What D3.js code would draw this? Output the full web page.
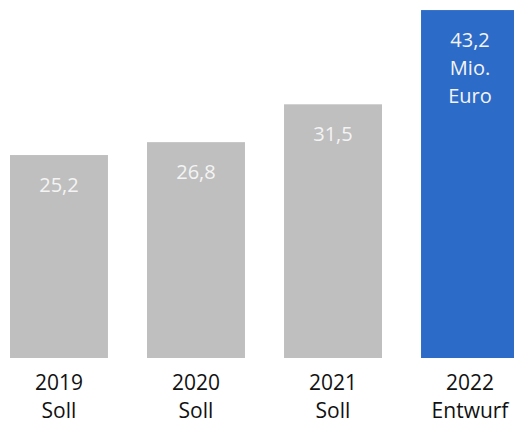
<!DOCTYPE html>
<html>
<head>
<meta charset="utf-8">
<script src="https://cdn.jsdelivr.net/npm/d3@7"></script>
<style>
  html, body { margin: 0; padding: 0; background: #fff; }
</style>
</head>
<body>
<div id="chart"></div>
<script>
// data
const years = ["2019", "2020", "2021", "2022"];
const kinds = ["Soll", "Soll", "Soll", "Entwurf"];
const values = [25.2, 26.8, 31.5, 43.2];
const labels = ["25,2", "26,8", "31,5", "43,2"];
const unitLines = ["Mio.", "Euro"]; // only on the last bar

const grey = "#bfbfbf";
const blue = "#2c6bc8";

const width = 514;
const height = 423;
const baseY = 358;

const x = d3.scaleBand()
  .domain(years)
  .range([10, 519])
  .paddingInner(0.285)
  .paddingOuter(0);

const y = d3.scaleLinear()
  .domain([0, 44.45])
  .range([baseY, 0]);

const svg = d3.select("#chart").append("svg")
  .attr("width", width)
  .attr("height", height)
  .style("font-family", "'Open Sans', sans-serif");

const rows = years.map((yr, i) => ({ year: yr, kind: kinds[i], value: values[i], label: labels[i], last: i === years.length - 1 }));

svg.append("g")
  .selectAll("rect")
  .data(rows)
  .join("rect")
    .attr("x", d => x(d.year))
    .attr("y", d => y(d.value))
    .attr("width", x.bandwidth())
    .attr("height", d => baseY - y(d.value))
    .attr("fill", d => d.last ? blue : grey);

// value labels inside the bars
const vl = svg.append("g")
  .selectAll("text")
  .data(rows)
  .join("text")
    .attr("x", d => x(d.year) + x.bandwidth() / 2)
    .attr("y", d => y(d.value) + 37)
    .attr("text-anchor", "middle")
    .attr("fill", "#f4f4f4")
    .style("font-size", "20px");

vl.append("tspan").text(d => d.label);
vl.filter(d => d.last)
  .selectAll("tspan.unit")
  .data(unitLines)
  .join("tspan")
    .attr("class", "unit")
    .attr("x", x(years[3]) + x.bandwidth() / 2)
    .attr("dy", 28)
    .text(d => d);

// category labels
const cl = svg.append("g")
  .selectAll("text")
  .data(rows)
  .join("text")
    .attr("x", d => x(d.year) + x.bandwidth() / 2)
    .attr("y", 390)
    .attr("text-anchor", "middle")
    .attr("fill", "#111")
    .style("font-size", "21px");

cl.append("tspan").text(d => d.year);
cl.append("tspan")
  .attr("x", d => x(d.year) + x.bandwidth() / 2)
  .attr("dy", 28)
  .text(d => d.kind);
</script>
</body>
</html>
